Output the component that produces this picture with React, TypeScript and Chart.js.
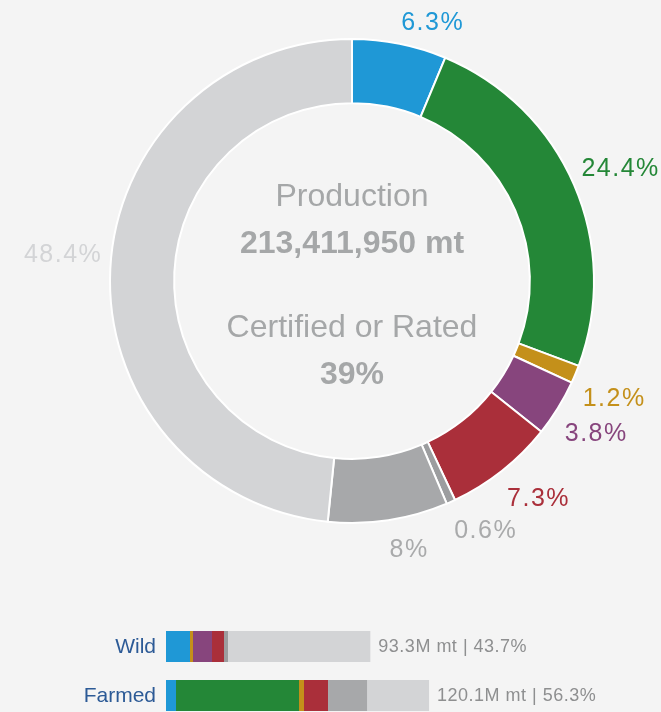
import React, { useEffect, useRef } from "react";
import { Chart, registerables } from "chart.js";

Chart.register(...registerables);

// ---------- data ----------
const segmentNames = [
  "Certified A",
  "Certified B",
  "Certified C",
  "Rated D",
  "Rated E",
  "Rated F",
  "Improvement",
  "Not certified or rated",
];
const shares = [6.3, 24.4, 1.2, 3.8, 7.3, 0.6, 8, 48.4];
const shareLabels = ["6.3%", "24.4%", "1.2%", "3.8%", "7.3%", "0.6%", "8%", "48.4%"];
const segmentColors = [
  "#1f98d6",
  "#248737",
  "#c4901a",
  "#87457d",
  "#aa2f3a",
  "#9c9d9f",
  "#a7a8aa",
  "#d3d4d6",
];
const labelColors = [
  "#1f98d6",
  "#248737",
  "#c4901a",
  "#87457d",
  "#aa2f3a",
  "#a9aaab",
  "#a9aaab",
  "#d3d4d6",
];
const centerLines = ["Production", "213,411,950 mt", "Certified or Rated", "39%"];

const barCategories = ["Wild", "Farmed"];
// million metric tonnes per segment (same order as shares)
const wildValues = [10.96, 0, 1.37, 8.68, 5.48, 1.83, 0, 64.98];
const farmedValues = [4.57, 56.16, 2.28, 0, 10.96, 0, 17.81, 28.32];
const barTotalLabels = ["93.3M mt | 43.7%", "120.1M mt | 56.3%"];
const barTotals = [93.3, 120.1];

const FONT = '"Liberation Sans", Arial, Helvetica, sans-serif';

// ---------- plugins ----------
const doughnutLabels = {
  id: "doughnutLabels",
  afterDraw(chart: any) {
    const ctx = chart.ctx;
    const meta = chart.getDatasetMeta(0);
    ctx.save();
    ctx.font = `25px ${FONT}`;
    try {
      (ctx as any).letterSpacing = "1.5px";
    } catch (e) {}
    ctx.textAlign = "center";
    ctx.textBaseline = "middle";
    const h = 22;
    meta.data.forEach((arc: any, i: number) => {
      const { x, y, startAngle, endAngle, outerRadius } = arc.getProps(
        ["x", "y", "startAngle", "endAngle", "outerRadius"],
        true
      );
      const mid = (startAngle + endAngle) / 2;
      const R = outerRadius + 8;
      const c = Math.cos(mid);
      const s = Math.sin(mid);
      const px = x + R * c;
      const py = y + R * s;
      const txt = shareLabels[i];
      const w = ctx.measureText(txt).width;
      const cx = px + Math.sign(c) * w / 2;
      const cy = py + (s > 0 ? h / 2 + 10 : -h / 2 - 3);
      ctx.fillStyle = labelColors[i];
      ctx.fillText(txt, cx, cy + 1);
    });
    // center text
    const a0 = meta.data[0];
    const cx = a0.x;
    const cy = a0.y;
    ctx.textAlign = "center";
    ctx.textBaseline = "alphabetic";
    try {
      (ctx as any).letterSpacing = "0px";
    } catch (e) {}
    ctx.fillStyle = "#a5a7a8";
    ctx.font = `32px ${FONT}`;
    ctx.fillText(centerLines[0], cx, cy - 75);
    ctx.font = `bold 32px ${FONT}`;
    ctx.fillText(centerLines[1], cx, cy - 28);
    ctx.font = `32px ${FONT}`;
    ctx.fillText(centerLines[2], cx, cy + 56);
    ctx.font = `bold 32px ${FONT}`;
    ctx.fillText(centerLines[3], cx, cy + 103);
    ctx.restore();
  },
};

const barTextPlugin = {
  id: "barText",
  afterDraw(chart: any) {
    const ctx = chart.ctx;
    const xs = chart.scales.x;
    const ys = chart.scales.y;
    ctx.save();
    ctx.textBaseline = "middle";
    barCategories.forEach((cat, i) => {
      const yy = ys.getPixelForValue(i);
      // category label
      ctx.font = `21px ${FONT}`;
      try {
        (ctx as any).letterSpacing = "0px";
      } catch (e) {}
      ctx.fillStyle = "#2c5a96";
      ctx.textAlign = "right";
      ctx.fillText(cat, chart.chartArea.left - 10, yy + 1);
      // totals
      ctx.font = `18px ${FONT}`;
      try {
        (ctx as any).letterSpacing = "0.5px";
      } catch (e) {}
      ctx.fillStyle = "#8e8f90";
      ctx.textAlign = "left";
      const ex = xs.getPixelForValue(barTotals[i]);
      ctx.fillText(barTotalLabels[i], ex + 8, yy + 1);
    });
    ctx.restore();
  },
};

export default function App() {
  const donutRef = useRef<HTMLCanvasElement | null>(null);
  const barRef = useRef<HTMLCanvasElement | null>(null);

  useEffect(() => {
    const donut = new Chart(donutRef.current as HTMLCanvasElement, {
      type: "doughnut",
      data: {
        labels: segmentNames,
        datasets: [
          {
            data: shares,
            backgroundColor: segmentColors,
            borderColor: "#ffffff",
            borderWidth: 2,
          },
        ],
      },
      options: {
        animation: false,
        responsive: true,
        maintainAspectRatio: false,
        cutout: "73.5%",
        layout: { padding: { left: 109, right: 66, top: 38, bottom: 76 } },
        plugins: { legend: { display: false }, tooltip: { enabled: false } },
      },
      plugins: [doughnutLabels],
    });

    const bar = new Chart(barRef.current as HTMLCanvasElement, {
      type: "bar",
      data: {
        labels: barCategories,
        datasets: segmentNames.map((name, i) => ({
          label: name,
          data: [wildValues[i], farmedValues[i]],
          backgroundColor: segmentColors[i],
          borderWidth: 0,
          stack: "s",
          categoryPercentage: 1,
          barPercentage: 31 / 49,
        })),
      },
      options: {
        animation: false,
        responsive: true,
        maintainAspectRatio: false,
        indexAxis: "y",
        layout: { padding: { left: 166, right: 0, top: 0, bottom: 0 } },
        scales: {
          x: {
            stacked: true,
            display: false,
            min: 0,
            max: 226,
          },
          y: {
            stacked: true,
            display: false,
          },
        },
        plugins: { legend: { display: false }, tooltip: { enabled: false } },
      },
      plugins: [barTextPlugin],
    });

    return () => {
      donut.destroy();
      bar.destroy();
    };
  }, []);

  return (
    <div
      style={{
        position: "absolute",
        left: 0,
        top: 0,
        width: 661,
        height: 712,
        overflow: "hidden",
        background: "#f4f4f4",
      }}
    >
      <div style={{ position: "absolute", left: 0, top: 0, width: 661, height: 600 }}>
        <canvas ref={donutRef} />
      </div>
      <div style={{ position: "absolute", left: 0, top: 622, width: 661, height: 98 }}>
        <canvas ref={barRef} />
      </div>
    </div>
  );
}
